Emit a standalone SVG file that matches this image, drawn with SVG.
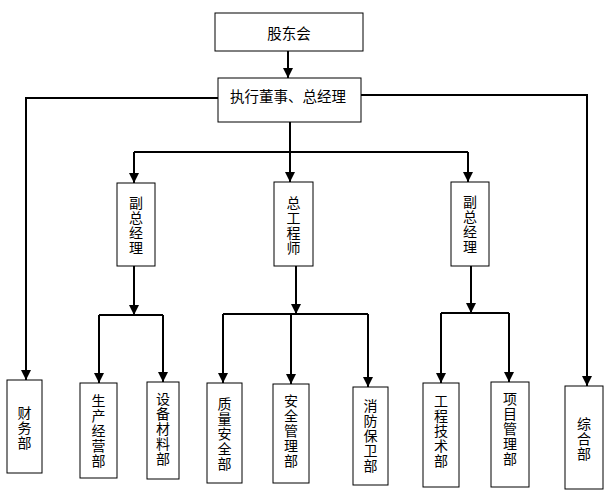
<svg xmlns="http://www.w3.org/2000/svg" width="614" height="501" viewBox="0 0 614 501">
<style>
.box{fill:#fff;stroke:#000;stroke-width:1}
.ln{fill:none;stroke:#000;stroke-width:2}
.ar{marker-end:url(#arr)}
text{font-family:"Noto Sans CJK SC","Noto Sans CJK TC",sans-serif;font-size:14px;fill:#000;text-anchor:middle;dominant-baseline:central}
.h{font-size:14.5px}
</style>
<defs>
<marker id="arr" markerUnits="userSpaceOnUse" markerWidth="10" markerHeight="10" viewBox="0 0 10 10" refX="10" refY="5" orient="auto">
<path d="M0,0 L10,5 L0,10 z" fill="#000"/>
</marker>
</defs>
<rect width="614" height="501" fill="#fff"/>
<g id="connectors">
<path class="ln ar" d="M288,51 V78"/>
<path class="ln ar" d="M218,98 H26 V380"/>
<path class="ln ar" d="M361,95 H587 V386"/>
<path class="ln ar" d="M290,122 V182"/>
<path class="ln" d="M134,152 H468"/>
<path class="ln ar" d="M134,152 V183"/>
<path class="ln ar" d="M468,152 V182"/>
<path class="ln ar" d="M134,266 V315"/>
<path class="ln" d="M99,315 H163"/>
<path class="ln ar" d="M99,315 V383"/>
<path class="ln ar" d="M163,315 V382"/>
<path class="ln ar" d="M296,266 V314"/>
<path class="ln" d="M223,314 H368"/>
<path class="ln ar" d="M223,314 V383"/>
<path class="ln ar" d="M291,314 V384"/>
<path class="ln ar" d="M368,314 V387"/>
<path class="ln ar" d="M471,266 V313"/>
<path class="ln" d="M441,313 H509"/>
<path class="ln ar" d="M441,313 V383"/>
<path class="ln ar" d="M509,313 V382"/>
</g>
<g id="n-gudonghui"><rect class="box" x="215" y="13" width="148" height="38"/><text class="h" x="289" y="32">股东会</text></g>
<g id="n-zhixing"><rect class="box" x="218" y="78" width="143" height="44"/><text class="h" x="288" y="95">执行董事、总经理</text></g>
<g id="n-fuzong1"><rect class="box" x="117" y="183" width="38" height="83"/><text x="136"><tspan x="136" y="201.5">副</tspan><tspan x="136" y="216.5">总</tspan><tspan x="136" y="231.5">经</tspan><tspan x="136" y="246.5">理</tspan></text></g>
<g id="n-zonggong"><rect class="box" x="274" y="182" width="39" height="84"/><text x="293.5"><tspan x="293.5" y="201.5">总</tspan><tspan x="293.5" y="216.5">工</tspan><tspan x="293.5" y="231.5">程</tspan><tspan x="293.5" y="246.5">师</tspan></text></g>
<g id="n-fuzong2"><rect class="box" x="451" y="182" width="38" height="84"/><text x="470"><tspan x="470" y="201">副</tspan><tspan x="470" y="216">总</tspan><tspan x="470" y="231">经</tspan><tspan x="470" y="246">理</tspan></text></g>
<g id="n-caiwu"><rect class="box" x="7" y="380" width="35" height="93"/><text x="24.5"><tspan x="24.5" y="411.5">财</tspan><tspan x="24.5" y="426.5">务</tspan><tspan x="24.5" y="441.5">部</tspan></text></g>
<g id="n-shengchan"><rect class="box" x="80" y="383" width="37" height="95"/><text x="98.5"><tspan x="98.5" y="399.5">生</tspan><tspan x="98.5" y="414.5">产</tspan><tspan x="98.5" y="429.5">经</tspan><tspan x="98.5" y="444.5">营</tspan><tspan x="98.5" y="459.5">部</tspan></text></g>
<g id="n-shebei"><rect class="box" x="147" y="382" width="32" height="97"/><text x="163"><tspan x="163" y="397.5">设</tspan><tspan x="163" y="412.5">备</tspan><tspan x="163" y="427.5">材</tspan><tspan x="163" y="442.5">料</tspan><tspan x="163" y="457.5">部</tspan></text></g>
<g id="n-zhiliang"><rect class="box" x="207" y="383" width="35" height="100"/><text x="224.5"><tspan x="224.5" y="402.5">质</tspan><tspan x="224.5" y="417.5">量</tspan><tspan x="224.5" y="432.5">安</tspan><tspan x="224.5" y="447.5">全</tspan><tspan x="224.5" y="462.5">部</tspan></text></g>
<g id="n-anquan"><rect class="box" x="273" y="384" width="36" height="99"/><text x="291"><tspan x="291" y="400">安</tspan><tspan x="291" y="415">全</tspan><tspan x="291" y="430">管</tspan><tspan x="291" y="445">理</tspan><tspan x="291" y="460">部</tspan></text></g>
<g id="n-xiaofang"><rect class="box" x="353" y="387" width="35" height="98"/><text x="370.5"><tspan x="370.5" y="405">消</tspan><tspan x="370.5" y="420">防</tspan><tspan x="370.5" y="435">保</tspan><tspan x="370.5" y="450">卫</tspan><tspan x="370.5" y="465">部</tspan></text></g>
<g id="n-gongcheng"><rect class="box" x="423" y="383" width="36" height="104"/><text x="441"><tspan x="441" y="399.5">工</tspan><tspan x="441" y="414.5">程</tspan><tspan x="441" y="429.5">技</tspan><tspan x="441" y="444.5">术</tspan><tspan x="441" y="459.5">部</tspan></text></g>
<g id="n-xiangmu"><rect class="box" x="491" y="382" width="38" height="105"/><text x="510"><tspan x="510" y="397.5">项</tspan><tspan x="510" y="412.5">目</tspan><tspan x="510" y="427.5">管</tspan><tspan x="510" y="442.5">理</tspan><tspan x="510" y="457.5">部</tspan></text></g>
<g id="n-zonghe"><rect class="box" x="565" y="386" width="38" height="103"/><text x="584"><tspan x="584" y="422.5">综</tspan><tspan x="584" y="437.5">合</tspan><tspan x="584" y="452.5">部</tspan></text></g>
</svg>
